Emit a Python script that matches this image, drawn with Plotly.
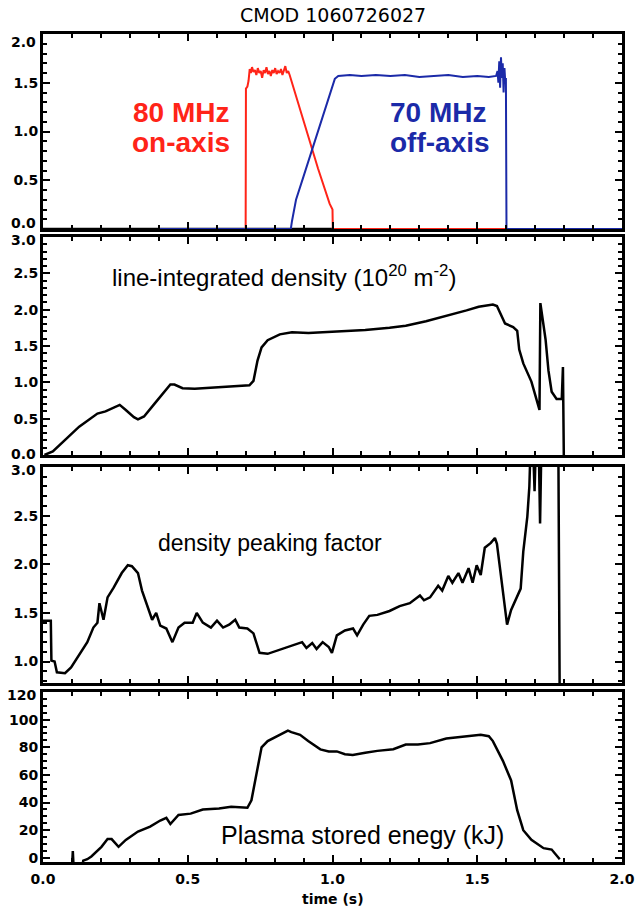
import plotly.graph_objects as go

# ---------------- data ----------------
# Panel 1: RF power (MW)
t_base = [0.0, 1.0]
p_base = [0.0, 0.0]

t_80 = [0.40, 0.700, 0.701, 0.706, 0.710, 0.714, 0.718, 0.722, 0.727, 0.732, 0.737, 0.742,
        0.747, 0.752, 0.757, 0.762, 0.767, 0.772, 0.777, 0.782, 0.787, 0.792, 0.797, 0.802,
        0.807, 0.812, 0.817, 0.822, 0.827, 0.832, 0.837, 0.842, 0.847, 0.852, 0.858, 0.90,
        0.95, 0.99, 1.0, 1.001, 1.60]
p_80 = [0.0, 0.0, 1.44, 1.46, 1.52, 1.64, 1.60, 1.66, 1.61, 1.63, 1.58, 1.65,
        1.60, 1.62, 1.55, 1.63, 1.60, 1.66, 1.59, 1.62, 1.57, 1.63, 1.60, 1.65,
        1.59, 1.62, 1.60, 1.64, 1.58, 1.62, 1.67, 1.60, 1.62, 1.58, 1.52, 1.12,
        0.62, 0.26, 0.20, 0.0, 0.0]

t_70 = [0.40, 0.856, 0.860, 0.866, 0.874, 0.90, 0.93, 0.96, 0.99, 1.0, 1.008, 1.02,
        1.06, 1.10, 1.15, 1.20, 1.25, 1.30, 1.35, 1.40, 1.45, 1.50, 1.54, 1.565,
        1.570, 1.573, 1.576, 1.579, 1.582, 1.585, 1.588, 1.591, 1.594, 1.597, 1.599,
        1.601, 2.0]
p_70 = [0.0, 0.0, 0.08, 0.18, 0.30, 0.54, 0.82, 1.10, 1.37, 1.47, 1.54, 1.57,
        1.58, 1.57, 1.58, 1.57, 1.58, 1.56, 1.57, 1.58, 1.56, 1.57, 1.56, 1.57,
        1.62, 1.50, 1.72, 1.45, 1.76, 1.55, 1.70, 1.40, 1.65, 1.50, 1.55,
        0.0, 0.0]

# Panel 2: line-integrated density (1e20 m^-2)
t_nl = [0.005, 0.034, 0.125, 0.174, 0.188, 0.216, 0.251, 0.265, 0.286, 0.314, 0.328,
        0.349, 0.384, 0.412, 0.44, 0.454, 0.482, 0.524, 0.594, 0.65, 0.713, 0.727,
        0.741, 0.755, 0.776, 0.818, 0.86, 0.917, 0.973, 1.043, 1.113, 1.197, 1.253,
        1.323, 1.393, 1.463, 1.505, 1.554, 1.568, 1.582, 1.596, 1.624, 1.638, 1.645,
        1.659, 1.687, 1.708, 1.715, 1.718, 1.726, 1.736, 1.746, 1.757, 1.774, 1.792,
        1.796, 1.799]
nl = [0.0, 0.05, 0.39, 0.54, 0.57, 0.60, 0.66, 0.69, 0.62, 0.52, 0.49,
      0.53, 0.70, 0.84, 0.97, 0.97, 0.92, 0.91, 0.93, 0.94, 0.96, 1.02,
      1.30, 1.48, 1.58, 1.66, 1.69, 1.68, 1.69, 1.71, 1.72, 1.75, 1.78,
      1.84, 1.91, 1.99, 2.04, 2.07, 2.05, 1.93, 1.81, 1.76, 1.71, 1.45,
      1.26, 1.01, 0.72, 0.62, 2.09, 1.84, 1.59, 1.16, 0.87, 0.77, 0.77,
      1.21, 0.0]

# Panel 3: density peaking factor
t_pk = [0.0, 0.027, 0.029, 0.040, 0.048, 0.076, 0.097, 0.125, 0.153, 0.174, 0.188, 0.195,
        0.209, 0.223, 0.244, 0.272, 0.293, 0.307, 0.328, 0.342, 0.356, 0.377, 0.391,
        0.405, 0.426, 0.447, 0.468, 0.489, 0.517, 0.531, 0.552, 0.58, 0.601, 0.622,
        0.643, 0.664, 0.678, 0.706, 0.727, 0.748, 0.776, 0.804, 0.832, 0.874, 0.895,
        0.91, 0.93, 0.945, 0.966, 0.987, 0.998, 1.015, 1.043, 1.071, 1.085, 1.106,
        1.127, 1.155, 1.197, 1.232, 1.267, 1.302, 1.316, 1.337, 1.365, 1.379, 1.40,
        1.414, 1.435, 1.449, 1.47, 1.484, 1.498, 1.512, 1.526, 1.547, 1.561, 1.568,
        1.582, 1.596, 1.603, 1.617, 1.631, 1.65, 1.659, 1.673, 1.68, 1.685, 1.692,
        1.698, 1.703, 1.712, 1.717, 1.722, 1.78, 1.785]
pk = [1.42, 1.42, 1.01, 1.0, 0.89, 0.88, 0.94, 1.07, 1.20, 1.35, 1.40, 1.60,
      1.43, 1.66, 1.76, 1.91, 1.99, 1.98, 1.91, 1.73, 1.60, 1.43, 1.50,
      1.37, 1.34, 1.20, 1.35, 1.40, 1.40, 1.50, 1.40, 1.35, 1.42, 1.35,
      1.38, 1.43, 1.35, 1.34, 1.29, 1.09, 1.08, 1.11, 1.14, 1.18, 1.20,
      1.14, 1.19, 1.13, 1.20, 1.15, 1.09, 1.27, 1.32, 1.34, 1.27, 1.38,
      1.47, 1.48, 1.52, 1.57, 1.60, 1.68, 1.63, 1.66, 1.78, 1.73, 1.88,
      1.81, 1.91, 1.81, 1.96, 1.81, 1.99, 1.89, 2.17, 2.22, 2.27, 2.21,
      1.89, 1.57, 1.38, 1.53, 1.63, 1.75, 2.13, 2.49, 2.80, 3.3, 3.3,
      2.75, 3.3, 3.3, 2.42, 3.3, 3.3, 0.5]

# Panel 4: plasma stored energy (kJ)
t_w = [0.0, 0.100, 0.103, 0.106, 0.135, 0.139, 0.153, 0.167, 0.202, 0.223, 0.237, 0.261,
       0.286, 0.328, 0.37, 0.405, 0.426, 0.44, 0.468, 0.51, 0.552, 0.608, 0.65, 0.706,
       0.72, 0.734, 0.755, 0.776, 0.818, 0.846, 0.858, 0.888, 0.916, 0.958, 0.987,
       1.015, 1.043, 1.07, 1.113, 1.155, 1.21, 1.253, 1.295, 1.337, 1.393, 1.463,
       1.512, 1.54, 1.554, 1.589, 1.617, 1.638, 1.659, 1.687, 1.729, 1.757, 1.771,
       1.785]
w = [-8, -8, 5, -8, -8, -2, -1, 1, 8, 13.6, 13.6, 8,
     13, 19, 22.6, 27, 29, 24.5, 31, 32, 35, 35.7, 37, 36.2,
     41.7, 58, 80, 84.5, 89, 92, 91, 89, 84.5, 78.5, 77,
     77, 75, 74.5, 76, 77.4, 78.6, 82, 82, 83, 86.4, 88,
     89, 88, 84.5, 70, 56, 34.5, 20, 13, 7, 6, 2.4,
     -1]

x_ticks = [0.0, 0.5, 1.0, 1.5, 2.0]
y1_ticks = [0.0, 0.5, 1.0, 1.5, 2.0]
y2_ticks = [0.0, 0.5, 1.0, 1.5, 2.0, 2.5, 3.0]
y3_ticks = [1.0, 1.5, 2.0, 2.5, 3.0]
y4_ticks = [0, 20, 40, 60, 80, 100, 120]

# ---------------- figure ----------------
W, H = 636, 911
ml, mr, mt, mb = 43, 14, 34, 49
plot_h = H - mt - mb


def dom(top_px, bot_px):
    return [(H - mb - bot_px) / plot_h, (H - mb - top_px) / plot_h]


fig = go.Figure()
BLACK = "black"
RED = "#ff2418"
BLUE = "#1b2aa8"

fig.add_trace(go.Scatter(x=t_base, y=p_base, mode="lines", line=dict(color=BLACK, width=2.5),
                         xaxis="x", yaxis="y"))
fig.add_trace(go.Scatter(x=t_80, y=p_80, mode="lines", line=dict(color=RED, width=2),
                         xaxis="x", yaxis="y"))
fig.add_trace(go.Scatter(x=t_70, y=p_70, mode="lines", line=dict(color=BLUE, width=2),
                         xaxis="x", yaxis="y"))
fig.add_trace(go.Scatter(x=t_nl, y=nl, mode="lines", line=dict(color=BLACK, width=2.5),
                         xaxis="x2", yaxis="y2"))
fig.add_trace(go.Scatter(x=t_pk, y=pk, mode="lines", line=dict(color=BLACK, width=2.5),
                         xaxis="x3", yaxis="y3"))
fig.add_trace(go.Scatter(x=t_w, y=w, mode="lines", line=dict(color=BLACK, width=2.5),
                         xaxis="x4", yaxis="y4"))

tickfont = dict(family="DejaVu Sans", size=14, color="black", weight="bold")

common = dict(showline=True, linecolor=BLACK, linewidth=3, mirror="allticks",
              ticks="inside", ticklen=7, tickwidth=2, tickcolor=BLACK,
              showgrid=False, zeroline=False, tickfont=tickfont, automargin=False)


def xax(anchor, show):
    return dict(common, range=[0, 2], tickvals=x_ticks,
                ticktext=["%.1f" % v for v in x_ticks],
                showticklabels=show, anchor=anchor, ticklabelstandoff=2,
                minor=dict(ticks="inside", ticklen=4, tickwidth=1.5, tickcolor=BLACK,
                           dtick=0.1, tick0=0))


def yax(anchor, rng, vals, fmt, mdtick, domain):
    return dict(common, range=rng, tickvals=vals, ticktext=[fmt % v for v in vals],
                anchor=anchor, domain=domain, ticklabelstandoff=-1,
                minor=dict(ticks="inside", ticklen=4, tickwidth=1.5, tickcolor=BLACK,
                           dtick=mdtick, tick0=0))


fig.update_layout(
    width=W, height=H,
    margin=dict(l=ml, r=mr, t=mt, b=mb),
    paper_bgcolor="white", plot_bgcolor="white",
    showlegend=False,
    xaxis=xax("y", False),
    xaxis2=xax("y2", False),
    xaxis3=xax("y3", False),
    xaxis4=xax("y4", True),
    # frame-end labels are drawn separately, nudged inside the frames as in the original
    yaxis=yax("x", [0, 2.0], y1_ticks[1:-1], "%.1f", 0.1, dom(34, 229)),
    yaxis2=yax("x2", [0, 3.0], y2_ticks[1:-1], "%.1f", 0.1, dom(237, 455)),
    yaxis3=yax("x3", [0.78, 3.0], y3_ticks[:-1], "%.1f", 0.1, dom(467, 683)),
    yaxis4=yax("x4", [-3, 120], y4_ticks[:-1], "%d", 5, dom(692, 862)),
)

fig.layout.xaxis2.matches = "x"
fig.layout.xaxis3.matches = "x"
fig.layout.xaxis4.matches = "x"

ann = []
ends = [("y", y1_ticks[-1], "%.1f", -8), ("y", y1_ticks[0], "%.1f", 6),
        ("y2", y2_ticks[-1], "%.1f", -3), ("y2", y2_ticks[0], "%.1f", 1),
        ("y3", y3_ticks[-1], "%.1f", -3), ("y4", y4_ticks[-1], "%d", -3)]
for yr, v, fmt, ys in ends:
    ann.append(dict(text=fmt % v, xref="paper", x=0, xanchor="right", xshift=-5,
                    yref=yr, y=v, yanchor="middle", yshift=ys, showarrow=False,
                    font=tickfont))

ann.append(dict(text="CMOD 1060726027", xref="paper", yref="paper", x=0.5,
                y=(H - mb - 15) / plot_h, showarrow=False, yanchor="middle",
                font=dict(family="DejaVu Sans", size=19, color=BLACK)))
big = dict(family="Liberation Sans", size=28, weight="bold")
ann.append(dict(text="80 MHz", xref="x", yref="y", x=0.475, y=1.19, showarrow=False,
                font=dict(big, color=RED)))
ann.append(dict(text="on-axis", xref="x", yref="y", x=0.475, y=0.89, showarrow=False,
                font=dict(big, color=RED)))
ann.append(dict(text="70 MHz", xref="x", yref="y", x=1.364, y=1.19, showarrow=False,
                font=dict(big, color=BLUE)))
ann.append(dict(text="off-axis", xref="x", yref="y", x=1.37, y=0.89, showarrow=False,
                font=dict(big, color=BLUE)))
ann.append(dict(text="line-integrated density (10<sup>20</sup> m<sup>-2</sup>)", xref="x2", yref="y2",
                x=0.231, y=2.47, xanchor="left", showarrow=False,
                font=dict(family="Liberation Sans", size=24, color=BLACK)))
ann.append(dict(text="density peaking factor", xref="x3", yref="y3",
                x=0.39, y=2.22, xanchor="left", showarrow=False,
                font=dict(family="Liberation Sans", size=23, color=BLACK)))
ann.append(dict(text="Plasma stored enegy (kJ)", xref="x4", yref="y4",
                x=0.608, y=16.5, xanchor="left", showarrow=False,
                font=dict(family="Liberation Sans", size=25, color=BLACK)))
ann.append(dict(text="time (s)", xref="paper", yref="paper", x=0.5,
                y=(H - mb - 899) / plot_h, yanchor="middle", showarrow=False,
                font=dict(family="DejaVu Sans", size=14, color=BLACK, weight="bold")))
fig.update_layout(annotations=ann)

fig.write_html("out.html", config={"displayModeBar": False},
               post_script="document.body.style.margin='0';document.body.style.overflow='hidden';")
